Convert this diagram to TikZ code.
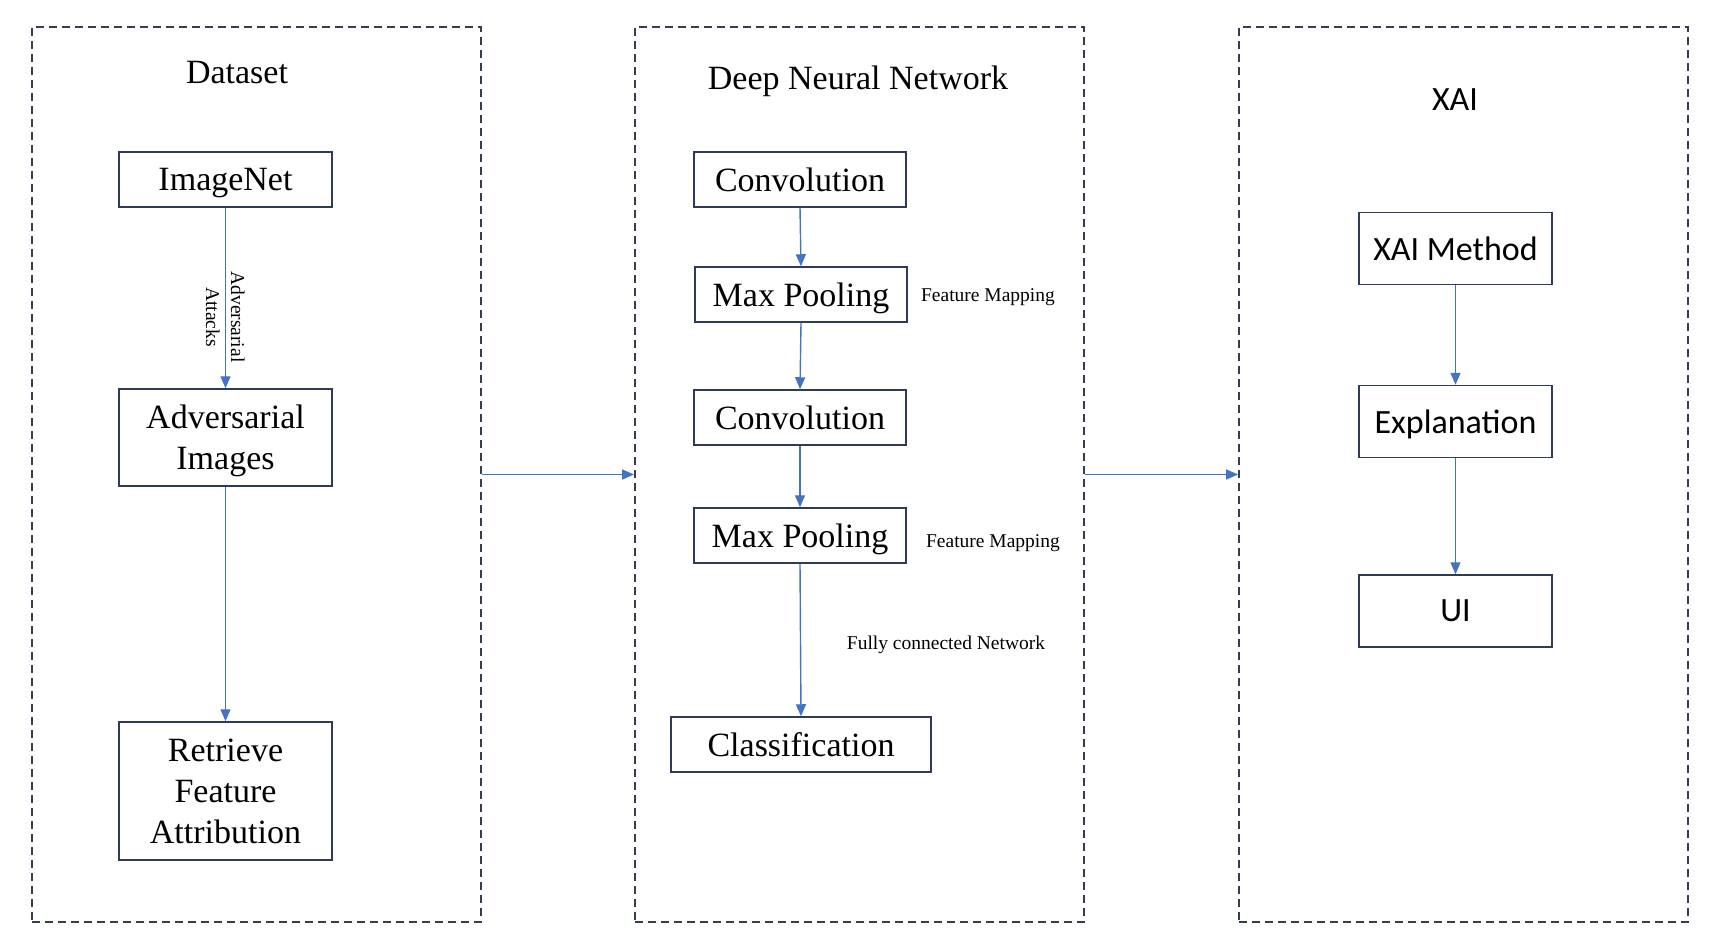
\documentclass[tikz,border=0pt]{standalone}
\usepackage{fontspec}
\setmainfont{Liberation Serif}
\newfontfamily\calfont{Carlito}
\usetikzlibrary{arrows.meta}
\definecolor{boxc}{HTML}{2F3C58}
\definecolor{dashc}{HTML}{333F50}
\definecolor{arrc}{HTML}{4472C4}
\tikzset{
  container/.style={draw=dashc, line width=1.8pt, dash pattern=on 8pt off 5pt, minimum width=449pt, minimum height=895pt, inner sep=0pt},
  stepbox/.style={draw=boxc, line width=1.5pt, inner sep=0pt, align=center, text depth=0pt, font=\fontsize{34}{41}\selectfont},
  xaibox/.style={draw=boxc, line width=1.5pt, inner sep=0pt, align=center, text depth=0pt, minimum width=193pt, minimum height=72pt, font=\calfont\fontsize{34}{41}\selectfont},
  title/.style={inner sep=0pt, text depth=0pt, font=\fontsize{34}{41}\selectfont},
  smalllab/.style={inner sep=0pt, text depth=0pt, font=\fontsize{19.5}{25}\selectfont, align=center},
  conn/.style={draw=arrc, line width=1.4pt, -{Triangle[length=12pt,width=10pt]}}
}
\begin{document}
\begin{tikzpicture}[x=1pt,y=-1pt]
\useasboundingbox (0,0) rectangle (1721,952);
% containers
\node[container] (left) at (256.5,474.5) {};
\node[container] (mid) at (859.5,474.5) {};
\node[container] (right) at (1463.5,474.5) {};
% titles
\node[title] (t1) at (237,72) {Dataset};
\node[title] (t2) at (858,78) {Deep Neural Network};
\node[title, font=\calfont\fontsize{34}{41}\selectfont] (t3) at (1455,100) {XAI};
% left column
\node[stepbox, minimum width=213pt, minimum height=55pt] (imgnet) at (225.5,179.5) {ImageNet};
\node[stepbox, minimum width=213pt, minimum height=97pt] (adv) at (225.5,437.5) {Adversarial\\Images};
\node[stepbox, minimum width=213pt, minimum height=138pt] (ret) at (225.5,791) {Retrieve\\Feature\\Attribution};
% middle column
\node[stepbox, minimum width=212pt, minimum height=55pt] (conv1) at (800,179.5) {Convolution};
\node[stepbox, minimum width=212pt, minimum height=55pt] (mp1) at (801,294.5) {Max Pooling};
\node[stepbox, minimum width=212pt, minimum height=55pt] (conv2) at (800,417.5) {Convolution};
\node[stepbox, minimum width=212pt, minimum height=55pt] (mp2) at (800,535.5) {Max Pooling};
\node[stepbox, minimum width=260pt, minimum height=55pt] (cls) at (801,744.5) {Classification};
% right column
\node[xaibox] (xm) at (1455.5,248.5) {XAI Method};
\node[xaibox] (expl) at (1455.5,421.5) {Explanation};
\node[xaibox] (ui) at (1455.5,611) {UI};
% labels
\node[smalllab, rotate=-90] (advatt) at (225.5,317) {Adversarial\\Attacks};
\node[smalllab] (fm1) at (988,295) {Feature Mapping};
\node[smalllab] (fm2) at (993,541) {Feature Mapping};
\node[smalllab] (fcn) at (946,643) {Fully connected Network};
% connectors
\draw[conn] (imgnet.south) -- (adv.north);
\draw[conn] (adv.south) -- (ret.north);
\draw[conn] (conv1.south) -- (mp1.north);
\draw[conn] (mp1.south) -- (conv2.north);
\draw[conn] (conv2.south) -- (mp2.north);
\draw[conn] (mp2.south) -- (cls.north);
\draw[conn] (xm.south) -- (expl.north);
\draw[conn] (expl.south) -- (ui.north);
\draw[conn] (left.east) -- (mid.west);
\draw[conn] (mid.east) -- (right.west);
\end{tikzpicture}
\end{document}
